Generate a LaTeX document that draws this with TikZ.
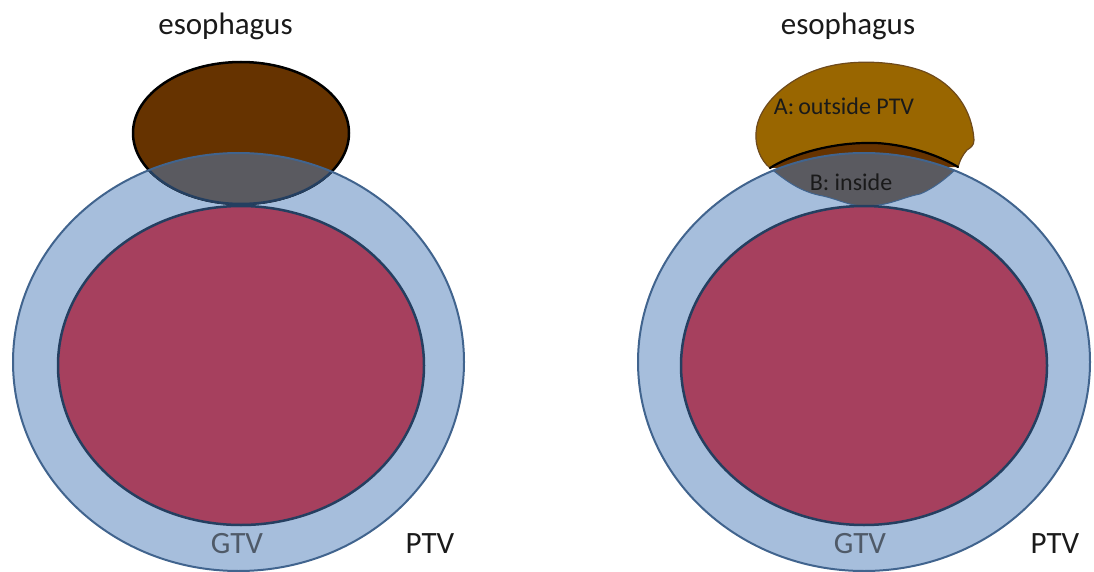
\documentclass[tikz,border=0pt]{standalone}
\usepackage{fontspec}
\setmainfont{Carlito}
\definecolor{ptvfill}{HTML}{A6BEDC}
\definecolor{ptvline}{HTML}{41648E}
\definecolor{gtvfill}{HTML}{A6405E}
\definecolor{gtvline}{HTML}{243F60}
\definecolor{esobrown}{HTML}{663300}
\definecolor{esogold}{HTML}{996600}
\definecolor{blobline}{HTML}{6E4A1C}
\definecolor{overlap}{HTML}{5A5A60}
\definecolor{gtvtext}{HTML}{4F5A68}
\definecolor{labeltext}{HTML}{1A1A1A}
\begin{document}
\begin{tikzpicture}[x=1pt,y=-1pt,
  ptvout/.style={draw=ptvline,line width=2},
  gtvshape/.style={fill=gtvfill,draw=gtvline,line width=2.5},
  biglabel/.style={anchor=base,inner sep=0pt,font=\fontsize{31}{31}\selectfont,text=labeltext},
  gtvlabel/.style={biglabel,text=gtvtext},
  smalllabel/.style={anchor=base,inner sep=0pt,font=\fontsize{24}{24}\selectfont,text=labeltext}]
\useasboundingbox (0,0) rectangle (1094,572);

% ---------- left diagram ----------
\fill[ptvfill] (238.5,362) ellipse [x radius=225.5, y radius=209];
\filldraw[fill=esobrown,draw=black,line width=2.5] (241,133) ellipse [x radius=108, y radius=71];
\begin{scope}
  \clip (238.5,362) ellipse [x radius=225.5, y radius=209];
  \filldraw[fill=overlap,draw=gtvline,line width=2.5] (241,133) ellipse [x radius=108, y radius=71];
\end{scope}
\path[ptvout] (238.5,362) ellipse [x radius=225.5, y radius=209];
\path[gtvshape] (241,365.5) ellipse [x radius=183, y radius=159.5];

\node[biglabel] (esoL) at (225.5,35) {esophagus};
\node[gtvlabel] (gtvL) at (237,553) {GTV};
\node[biglabel] (ptvL) at (430,553) {PTV};

% ---------- right diagram ----------
\fill[ptvfill] (864,362) ellipse [x radius=226, y radius=209];
\filldraw[fill=esogold,draw=blobline,line width=1.2]
  (770,168) .. controls (760,160) and (755,145) .. (756,133)
  .. controls (757,105) and (790,75) .. (830,66)
  .. controls (860,59) and (900,62) .. (925,72)
  .. controls (955,85) and (972,110) .. (974,140)
  .. controls (974,146) and (970,148) .. (967,150)
  .. controls (962,156) and (960,160) .. (958,167)
  .. controls (930,150) and (890,142) .. (867,143)
  .. controls (830,143) and (790,155) .. (770,168) -- cycle;
\fill[esobrown] (770,168) .. controls (790,155) and (830,143) .. (867,143)
  .. controls (890,142) and (930,150) .. (958,167) -- cycle;
\begin{scope}
  \clip (864,362) ellipse [x radius=226, y radius=209];
  \fill[overlap] (760,140) -- (770,168)
    .. controls (785,180) and (800,192) .. (823,196)
    .. controls (840,200) and (850,206) .. (864,206)
    .. controls (890,206) and (900,198) .. (920,194)
    .. controls (935,188) and (950,175) .. (958,167) -- (970,140) -- cycle;
  \draw[ptvline,line width=1] (770,168)
    .. controls (785,180) and (800,192) .. (823,196)
    .. controls (840,200) and (850,206) .. (864,206)
    .. controls (890,206) and (900,198) .. (920,194)
    .. controls (935,188) and (950,175) .. (958,167);
\end{scope}
\path[ptvout] (864,362) ellipse [x radius=226, y radius=209];
\draw[black,line width=2.2,line cap=round] (770,168) .. controls (790,155) and (830,143) .. (867,143)
  .. controls (890,142) and (930,150) .. (958,167);
\path[gtvshape] (864,365.5) ellipse [x radius=183, y radius=159.5];

\node[biglabel] (esoR) at (848,35) {esophagus};
\node[smalllabel] (outA) at (844,115) {A:\,outside PTV};
\node[smalllabel] (inB) at (851,190) {B: inside};
\node[gtvlabel] (gtvR) at (860,553) {GTV};
\node[biglabel] (ptvR) at (1055,553) {PTV};
\end{tikzpicture}
\end{document}
